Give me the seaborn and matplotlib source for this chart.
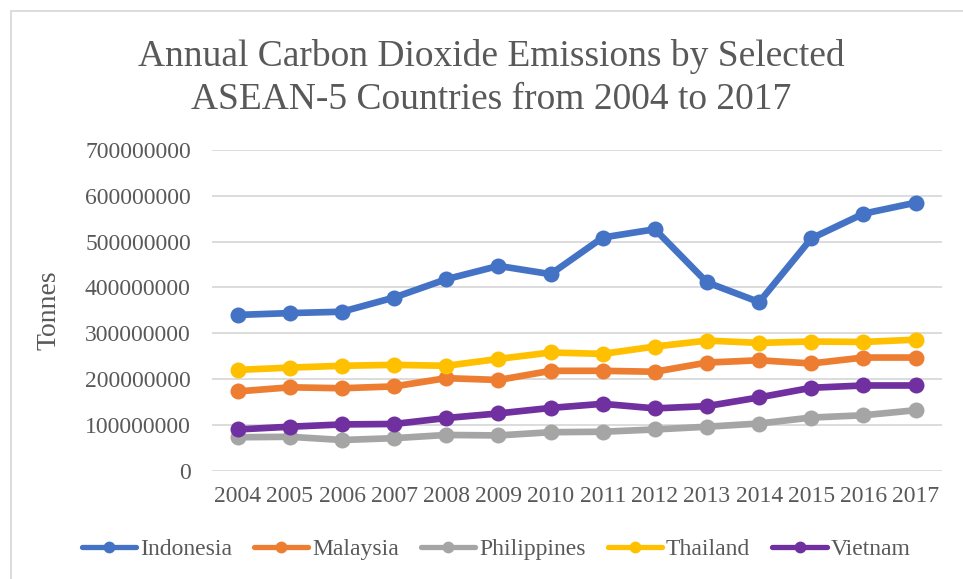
import matplotlib
matplotlib.use("Agg")
import matplotlib.pyplot as plt
import matplotlib.ticker as mticker
from matplotlib.patches import Rectangle
import seaborn as sns
import pandas as pd

years = [2004, 2005, 2006, 2007, 2008, 2009, 2010, 2011, 2012, 2013, 2014, 2015, 2016, 2017]
countries = ["Indonesia", "Malaysia", "Philippines", "Thailand", "Vietnam"]
indonesia = [340e6, 344e6, 347e6, 378e6, 418e6, 447e6, 429e6, 509e6, 527e6, 411e6, 368e6, 507e6, 561e6, 585e6]
malaysia = [173e6, 182e6, 180e6, 184e6, 202e6, 198e6, 218e6, 218e6, 216e6, 236e6, 241e6, 234e6, 247e6, 247e6]
philippines = [73e6, 74e6, 67e6, 71e6, 78e6, 77e6, 84e6, 85e6, 90e6, 96e6, 103e6, 116e6, 121e6, 132e6]
thailand = [220e6, 225e6, 229e6, 231e6, 229e6, 244e6, 258e6, 255e6, 271e6, 284e6, 279e6, 282e6, 281e6, 286e6]
vietnam = [90e6, 96e6, 101e6, 102e6, 115e6, 125e6, 137e6, 146e6, 136e6, 141e6, 160e6, 181e6, 186e6, 186e6]
colors = ["#4472C4", "#ED7D31", "#A5A5A5", "#FFC000", "#7030A0"]

series = [indonesia, malaysia, philippines, thailand, vietnam]
rows = []
for c, vals in zip(countries, series):
    for i, (y, v) in enumerate(zip(years, vals)):
        rows.append({"idx": i, "year": y, "Tonnes": v, "Country": c})
df = pd.DataFrame(rows)

sns.set_theme(style="white")
plt.rcParams["font.family"] = ["Liberation Serif", "DejaVu Serif"]
TXT = "#595959"

fig = plt.figure(figsize=(9.63, 5.79), dpi=100)
ax = fig.add_axes([211.7 / 963, 1 - 470.7 / 579, 730 / 963, 320.7 / 579])

sns.lineplot(data=df, x="idx", y="Tonnes", hue="Country", hue_order=countries,
             palette=colors, marker="o", markersize=11.5, markeredgewidth=0,
             linewidth=4.8, ax=ax, legend=True)

ax.set_xlim(-0.5, len(years) - 0.5)
ax.set_ylim(0, 700e6)
ax.yaxis.set_major_locator(mticker.MultipleLocator(100e6))
ax.yaxis.set_major_formatter(mticker.FuncFormatter(lambda v, p: f"{int(round(v))}"))
ax.set_xticks(range(len(years)))
ax.set_xticklabels([str(y) for y in years])
ax.grid(axis="y", color="#D9D9D9", linewidth=1.3)
ax.set_axisbelow(True)
for s in ax.spines.values():
    s.set_visible(False)
ax.tick_params(axis="both", length=0, labelsize=17, colors=TXT)
ax.tick_params(axis="y", pad=15)
ax.tick_params(axis="x", pad=11)
ax.set_xlabel("")
ax.set_ylabel("Tonnes", fontsize=20, color=TXT)
ax.yaxis.set_label_coords((61 - 211.7) / 730, (470.7 - 310) / 320.7)

fig.text(0.5 * (140 + 843) / 963, 1 - 78 / 579,
         "Annual Carbon Dioxide Emissions by Selected\nASEAN-5 Countries from 2004 to 2017",
         ha="center", va="center", fontsize=27, color=TXT, linespacing=1.35)

leg = ax.legend(loc="center", bbox_to_anchor=(0.5 * (80 + 912) / 963, 1 - 549 / 579),
                bbox_transform=fig.transFigure, ncol=5, frameon=False,
                fontsize=17, handlelength=2.3, handletextpad=0.15,
                columnspacing=0.95, labelcolor=TXT)
for ln in leg.get_lines():
    ln.set_linewidth(3.8)
    ln.set_markersize(8.5)

fig.patches.append(Rectangle((11 / 963, -0.1), 1.2, 1 - 11 / 579 + 0.1,
                             transform=fig.transFigure, fill=False,
                             edgecolor="#D9D9D9", linewidth=1.3, zorder=-1))

fig.savefig("out.png", dpi=100)
